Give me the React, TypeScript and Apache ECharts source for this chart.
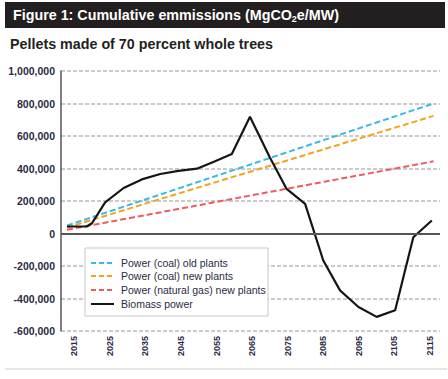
import React, { useEffect, useRef } from "react";
import * as echarts from "echarts";

const seriesNames = [
  "Power (coal) old plants",
  "Power (coal) new plants",
  "Power (natural gas) new plants",
  "Biomass power",
];
const coalOld: [number, number][] = [[2013, 49000], [2116, 800000]];
const coalNew: [number, number][] = [[2013, 37000], [2116, 724000]];
const gasNew: [number, number][] = [[2013, 23000], [2116, 444000]];
const biomassYears = [2013, 2018.5, 2020, 2023.7, 2028.9, 2034, 2039.2, 2044.3, 2049.5, 2054.6, 2059.3, 2064.4, 2070, 2074.7, 2079.9, 2085, 2089.7, 2094.9, 2100, 2105.2, 2110.3, 2115.5];
const biomassValues = [43000, 43000, 63000, 192000, 280000, 333000, 366000, 385000, 399000, 444000, 489000, 718000, 468000, 274000, 182000, -166000, -350000, -452000, -513000, -472000, -23000, 80000];
const xTickLabels = [2015, 2025, 2035, 2045, 2055, 2065, 2075, 2085, 2095, 2105, 2115];
const colors = ["#3cb8e6", "#f5a21f", "#ee5b5f", "#151515"];

export default function App() {
  const ref = useRef<HTMLDivElement>(null);
  useEffect(() => {
    if (!ref.current) return;
    const chart = echarts.init(ref.current, null, { renderer: "svg" });
    const font = "'Liberation Sans', Arial, sans-serif";
    const dash = [6, 3];
    const legendRows = [263, 276, 290, 304];
    const legendGraphics: any[] = [
      { type: "rect", shape: { x: 85, y: 248, width: 183, height: 68 }, style: { fill: "#fff", stroke: "#c8c8c8", lineWidth: 1 }, z: 10 },
    ];
    seriesNames.forEach((name, i) => {
      legendGraphics.push({
        type: "line",
        shape: { x1: 91, y1: legendRows[i], x2: 114, y2: legendRows[i] },
        style: { stroke: colors[i], lineWidth: 2, lineDash: i < 3 ? [5, 3] : null },
        z: 11,
      });
      legendGraphics.push({
        type: "text",
        x: 121,
        y: legendRows[i],
        style: { text: name, fill: "#2b2b45", fontSize: 10.5, fontFamily: font, verticalAlign: "middle" },
        z: 11,
      });
    });
    chart.setOption({
      animation: false,
      textStyle: { fontFamily: font },
      graphic: [
        { type: "rect", shape: { x: 5, y: 2, width: 440, height: 26 }, style: { fill: "#231f20" } },
        {
          type: "text",
          x: 13,
          y: 15,
          style: {
            text: "{a|Figure 1: Cumulative emmissions (MgCO}{s|2}{a|e/MW)}",
            verticalAlign: "middle",
            rich: {
              a: { fill: "#fff", fontSize: 14.3, fontWeight: "bold", fontFamily: font },
              s: { fill: "#fff", fontSize: 9, fontWeight: "bold", fontFamily: font, padding: [7, 0, 0, 0] },
            },
          },
        },
        {
          type: "text",
          x: 10,
          y: 44,
          style: { text: "Pellets made of 70 percent whole trees", fill: "#231f20", fontSize: 14.3, fontWeight: "bold", fontFamily: font, verticalAlign: "middle" },
        },
        { type: "line", shape: { x1: 5, y1: 369, x2: 447, y2: 369 }, style: { stroke: "#ccc", lineWidth: 1 } },
        ...legendGraphics,
      ],
      color: colors,
      grid: { left: 61, right: 8, top: 71, bottom: 48, containLabel: false },
      xAxis: {
        type: "value",
        min: 2011.3,
        max: 2117.8,
        axisLine: { show: false },
        axisTick: { show: false },
        splitLine: { show: false },
        axisLabel: {
          customValues: xTickLabels,
          rotate: 90,
          fontSize: 9,
          fontWeight: "bold",
          color: "#2b2b45",
          margin: 5,
          formatter: (v: number) => String(v),
        },
      },
      yAxis: {
        type: "value",
        min: -600000,
        max: 1000000,
        interval: 200000,
        axisLine: { show: true, lineStyle: { color: "#555", width: 1.5 } },
        axisTick: { show: false },
        splitLine: { show: true, lineStyle: { color: "#bbb", width: 1.5, type: [4, 2] } },
        axisLabel: {
          fontSize: 10.5,
          fontWeight: "bold",
          color: "#2b2b45",
          margin: 6,
          formatter: (v: number) => v.toLocaleString("en-US"),
        },
      },
      series: [
        { name: seriesNames[0], type: "line", data: coalOld, symbol: "none", lineStyle: { width: 2, type: dash } },
        { name: seriesNames[1], type: "line", data: coalNew, symbol: "none", lineStyle: { width: 2, type: dash } },
        { name: seriesNames[2], type: "line", data: gasNew, symbol: "none", lineStyle: { width: 2, type: dash } },
        {
          name: seriesNames[3],
          type: "line",
          data: biomassYears.map((y, i) => [y, biomassValues[i]]),
          symbol: "none",
          lineStyle: { width: 2.2, color: colors[3] },
          markLine: {
            silent: true,
            symbol: "none",
            label: { show: false },
            lineStyle: { color: "#555", width: 2, type: "solid" },
            data: [{ yAxis: 0 }],
          },
        },
      ],
    });
    return () => chart.dispose();
  }, []);
  return <div ref={ref} style={{ position: "absolute", left: 0, top: 0, width: 448, height: 379 }} />;
}
